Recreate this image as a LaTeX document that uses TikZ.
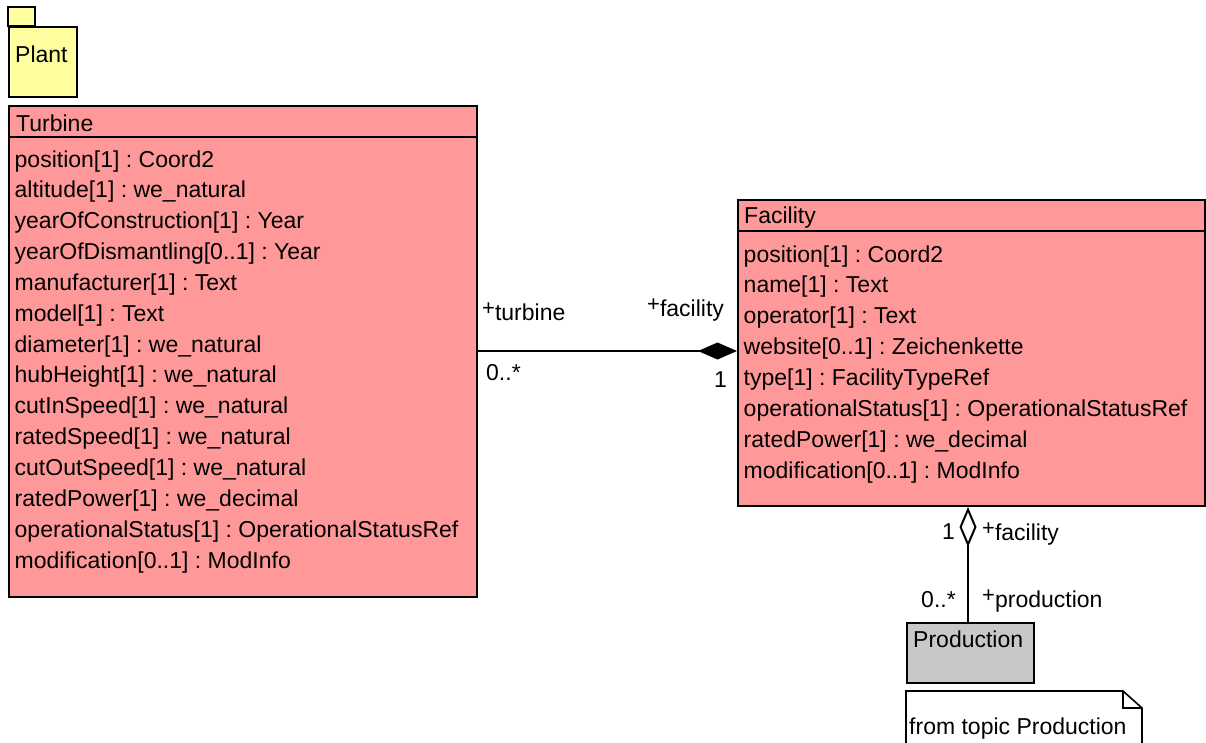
\documentclass[tikz,border=0pt]{standalone}
\usepackage{fontspec}
\setmainfont{Liberation Sans}
\usetikzlibrary{arrows.meta}
\frenchspacing

\definecolor{classpink}{RGB}{255,153,153}
\definecolor{pkgyellow}{RGB}{255,255,160}
\definecolor{extgray}{RGB}{200,200,200}

\tikzset{
  umltext/.style={font=\frenchspacing\fontsize{23}{30}\selectfont, inner sep=0pt, anchor=base west, text=black},
  classbox/.style={draw=black, line width=2pt, fill=classpink, anchor=north west, inner sep=0pt},
  pkgbox/.style={draw=black, line width=1.6pt, fill=pkgyellow, anchor=north west, inner sep=0pt},
  extbox/.style={draw=black, line width=2pt, fill=extgray, anchor=north west, inner sep=0pt},
  sepline/.style={draw=black, line width=2pt},
  assoc/.style={draw=black, line width=2pt},
}
\newcommand{\rolep}{\raisebox{5pt}{\fontsize{22}{22}\selectfont+}}

\begin{document}
\begin{tikzpicture}[x=1pt, y=-1pt]
\path[use as bounding box] (0,0) rectangle (1206,742);
\clip (0,0) rectangle (1206,742);
\fill[white] (0,0) rectangle (1206,742);

% package Plant
\draw[pkgbox] (8,7) rectangle (35,26);
\node[pkgbox, minimum width=68pt, minimum height=70pt] (plant) at (8,26) {};
\node[umltext] (plantname) at (15,62) {Plant};

% class Turbine
\node[classbox, minimum width=468pt, minimum height=491pt] (turbine) at (8,105) {};
\draw[sepline] ([yshift=-32pt]turbine.north west) -- ([yshift=-32pt]turbine.north east);
\node[umltext] (turbinename) at (16,131) {Turbine};
\foreach \t [count=\i from 0] in {
  {position[1] : Coord2},
  {altitude[1] : we\_natural},
  {yearOfConstruction[1] : Year},
  {yearOfDismantling[0..1] : Year},
  {manufacturer[1] : Text},
  {model[1] : Text},
  {diameter[1] : we\_natural},
  {hubHeight[1] : we\_natural},
  {cutInSpeed[1] : we\_natural},
  {ratedSpeed[1] : we\_natural},
  {cutOutSpeed[1] : we\_natural},
  {ratedPower[1] : we\_decimal},
  {operationalStatus[1] : OperationalStatusRef},
  {modification[0..1] : ModInfo}}
  \node[umltext] (tattr\i) at (14.5, {167+30.85*\i}) {\t};

% class Facility
\node[classbox, minimum width=467pt, minimum height=306pt] (facility) at (737,199) {};
\draw[sepline] ([yshift=-32pt]facility.north west) -- ([yshift=-32pt]facility.north east);
\node[umltext] (facilityname) at (744,223) {Facility};
\foreach \t [count=\i from 0] in {
  {position[1] : Coord2},
  {name[1] : Text},
  {operator[1] : Text},
  {website[0..1] : Zeichenkette},
  {type[1] : FacilityTypeRef},
  {operationalStatus[1] : OperationalStatusRef},
  {ratedPower[1] : we\_decimal},
  {modification[0..1] : ModInfo}}
  \node[umltext] (fattr\i) at (743.5, {262+30.86*\i}) {\t};

% class Production (from another topic)
\node[extbox, minimum width=127pt, minimum height=60pt] (production) at (906,622) {};
\node[umltext] (productionname) at (913,647) {Production};

% note with folded corner
\draw[line width=1.6pt, fill=white] (906,691) -- (1123,691) -- (1142,708) -- (1142,770) -- (906,770) -- cycle;
\draw[line width=1.6pt] (1123,691) -- (1123,708) -- (1142,708);
\node[umltext] (notetext) at (909,734) {from topic Production};

% composition Turbine -- Facility
\coordinate (cL) at (turbine.east |- 0,351);
\coordinate (cR) at (facility.west |- 0,351);
\draw[assoc, -{Diamond[length=39pt, width=17pt]}] (cL) -- (cR);
\node[umltext] (roleT) at (482,320) {\rolep turbine};
\node[umltext] (roleF) at (647,316) {\rolep facility};
\node[umltext] (multT) at (486,380) {0..*};
\node[umltext] (multF) at (714,387) {1};

% aggregation Facility -- Production
\coordinate (aT) at (968,0 |- facility.south);
\coordinate (aB) at (968,0 |- production.north);
\draw[assoc, {Diamond[open, length=40pt, width=17pt]}-] (aT) -- (aB);
\node[umltext] (multF2) at (942,539) {1};
\node[umltext] (roleF2) at (982,540) {\rolep facility};
\node[umltext] (multP) at (921,607) {0..*};
\node[umltext] (roleP) at (982,607) {\rolep production};
\end{tikzpicture}
\end{document}
